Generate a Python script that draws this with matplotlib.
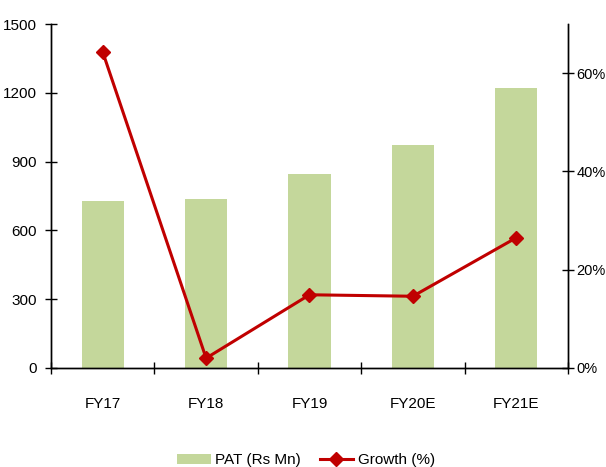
import matplotlib.pyplot as plt
from matplotlib.ticker import FuncFormatter, FixedLocator

plt.rcParams['font.family'] = ['Liberation Sans Narrow', 'Liberation Sans', 'DejaVu Sans']

years = ["FY17", "FY18", "FY19", "FY20E", "FY21E"]
pat = [728, 737, 846, 972, 1221]
growth = [64.3, 2.0, 14.9, 14.6, 26.5]

bar_color = "#c4d79b"
line_color = "#c00000"

fig = plt.figure(figsize=(6.06, 4.67), dpi=100)
ax = fig.add_axes([0.0842, 0.212, 0.853, 0.7366])
ax2 = ax.twinx()

x = range(len(years))
bars = ax.bar(x, pat, width=0.41, color=bar_color, zorder=2, label="PAT (Rs Mn)")
line, = ax2.plot(x, growth, color=line_color, lw=2.2, marker="D", markersize=7,
                 label="Growth (%)", zorder=3)

ax.set_xlim(-0.5, len(years) - 0.5)
ax.set_ylim(0, 1500)
ax.set_yticks(range(0, 1501, 300))
ax2.set_ylim(0, 70)
ax2.set_yticks([0, 20, 40, 60])
ax2.yaxis.set_major_formatter(FuncFormatter(lambda v, p: f"{v:.0f}%"))

ax.set_xticks(list(x))
ax.set_xticklabels(years)
ax.xaxis.set_minor_locator(FixedLocator([i + 0.5 for i in range(-1, len(years))]))
ax.tick_params(axis="x", which="major", length=0, pad=21, labelsize=11)
ax.tick_params(axis="x", which="minor", direction="inout", length=8, width=1)
ax.tick_params(axis="y", direction="inout", length=8, width=1, labelsize=11, pad=6)
ax2.tick_params(axis="y", direction="inout", length=8, width=1, labelsize=10.5, pad=2)

for a in (ax, ax2):
    a.spines["top"].set_visible(False)
    for s in ("left", "right", "bottom"):
        a.spines[s].set_linewidth(1)
        a.spines[s].set_color("black")

fig.legend([bars, line], ["PAT (Rs Mn)", "Growth (%)"], loc="lower center",
           bbox_to_anchor=(0.505, -0.03), ncol=2, frameon=False, fontsize=11,
           handlelength=2.2, columnspacing=1.2, handletextpad=0.3)

fig.savefig("out.png", dpi=100)
